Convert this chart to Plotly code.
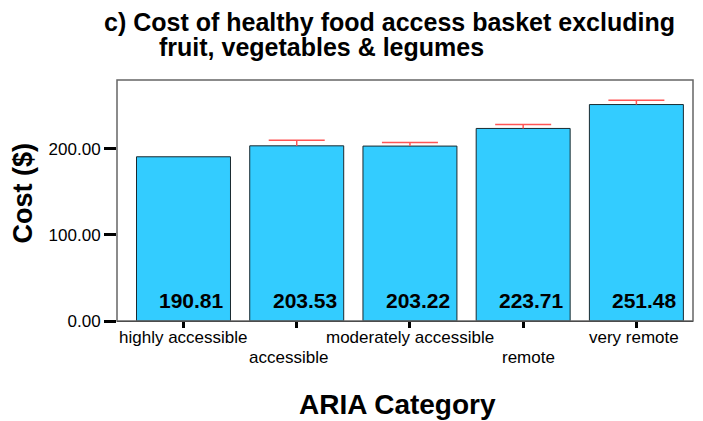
import plotly.graph_objects as go

categories = ["highly accessible", "accessible", "moderately accessible", "remote", "very remote"]
costs = [190.81, 203.53, 203.22, 223.71, 251.48]
errors_up = [None, 6.5, 4.3, 4.7, 5.0]
y_ticks = [0, 100, 200]
y_tick_labels = ["0.00", "100.00", "200.00"]
label_row = [0, 1, 0, 1, 0]
label_xshift = [0, -8, 0, 5, -2]

FONT = "Liberation Sans, Arial, sans-serif"
ERR_COLOR = "#ff5555"

fig = go.Figure()
fig.add_trace(go.Bar(
    x=categories, y=costs, width=0.83,
    marker=dict(color="#33CCFF", line=dict(color="#1a2a30", width=1)),
    hoverinfo="skip",
))

# upper error bars: stem from bar top to mean+error, and a cap at the end
stem_x, stem_y, cap_x, cap_y = [], [], [], []
for c, v, e in zip(categories, costs, errors_up):
    if e is None:
        continue
    stem_x += [c, c, None]
    stem_y += [v, v + e, None]
    cap_x.append(c)
    cap_y.append(v + e)

fig.add_trace(go.Scatter(
    x=stem_x, y=stem_y, mode="lines", line=dict(color=ERR_COLOR, width=1.5),
    hoverinfo="skip", connectgaps=False,
))
fig.add_trace(go.Scatter(
    x=cap_x, y=cap_y, mode="markers", hoverinfo="skip",
    marker=dict(symbol="line-ew-open", size=40, color=ERR_COLOR,
                line=dict(color=ERR_COLOR, width=1.5)),
))

annotations = []
for i, (c, v) in enumerate(zip(categories, costs)):
    annotations.append(dict(
        x=c, xref="x", y=0, yref="paper", yshift=21, yanchor="middle",
        xshift=8, text=f"{v:.2f}", showarrow=False,
        font=dict(family=FONT, size=21, color="black", weight="bold"),
    ))
    annotations.append(dict(
        x=c, xref="x", y=0, yref="paper", yanchor="middle",
        yshift=-16 - 20 * label_row[i], xshift=label_xshift[i],
        text=c, showarrow=False,
        font=dict(family=FONT, size=17, color="black"),
    ))

annotations += [
    dict(x=0, xref="paper", xshift=-95, y=0.5, yref="paper", yshift=7,
         text="Cost ($)", textangle=-90, showarrow=False,
         xanchor="center", yanchor="middle",
         font=dict(family=FONT, size=27, color="black", weight="bold")),
    dict(x=0.5, xref="paper", y=0, yref="paper", yshift=-83, yanchor="middle",
         xshift=-8, text="ARIA Category", showarrow=False,
         font=dict(family=FONT, size=28, color="black", weight="bold")),
    dict(x=0, xref="paper", xshift=-15, xanchor="left", y=1, yref="paper",
         yshift=58, yanchor="middle",
         text="c) Cost of healthy food access basket excluding", showarrow=False,
         font=dict(family=FONT, size=25, color="black", weight="bold")),
    dict(x=0, xref="paper", xshift=40, xanchor="left", y=1, yref="paper",
         yshift=33, yanchor="middle",
         text="fruit, vegetables & legumes", showarrow=False,
         font=dict(family=FONT, size=25, color="black", weight="bold")),
]

fig.update_layout(
    width=695, height=413,
    margin=dict(l=109, r=10, t=72, b=100, autoexpand=False),
    paper_bgcolor="white", plot_bgcolor="white",
    showlegend=False,
    annotations=annotations,
    shapes=[dict(type="rect", xref="paper", yref="paper", x0=0, x1=1, y0=0, y1=1,
                 line=dict(color="#666666", width=1.5), layer="above")],
    xaxis=dict(showticklabels=False, ticks="outside", ticklen=6, tickwidth=3,
               tickcolor="black", showline=True, linecolor="black", linewidth=1,
               showgrid=False, zeroline=False, automargin=False),
    yaxis=dict(range=[0, 280], tickvals=y_ticks, ticktext=y_tick_labels,
               ticks="outside", ticklen=12, tickwidth=3, tickcolor="black",
               tickfont=dict(family=FONT, size=17, color="black"),
               showline=False, showgrid=False, zeroline=False, automargin=False),
)

fig.write_html("out.html")
